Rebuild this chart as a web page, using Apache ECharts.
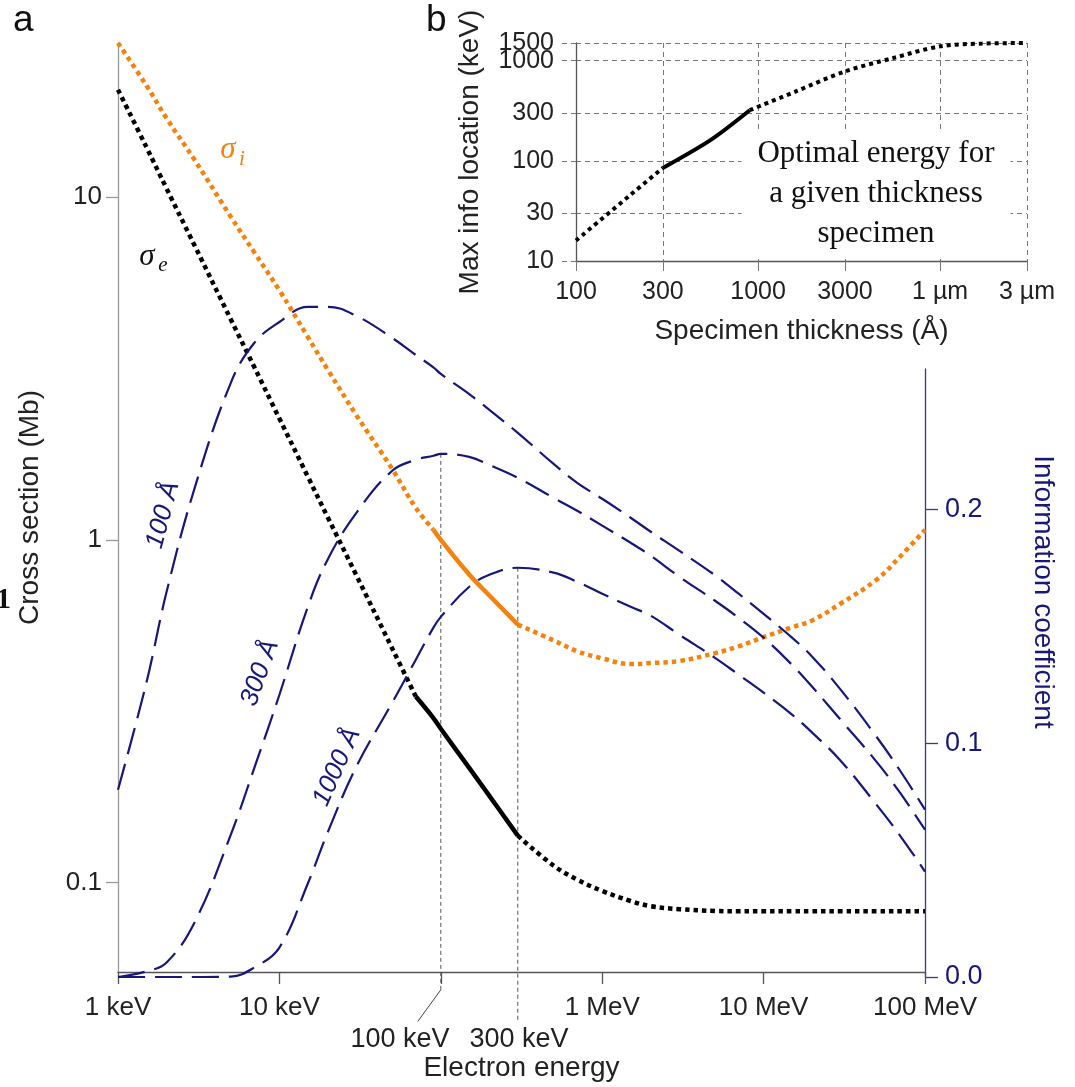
<!DOCTYPE html>
<html>
<head>
<meta charset="utf-8">
<script src="https://cdn.jsdelivr.net/npm/echarts@6/dist/echarts.min.js"></script>
<style>
  html, body { margin: 0; padding: 0; background: #fff; }
  #chart { width: 1075px; height: 1087px; }
</style>
</head>
<body>
<div id="chart"></div>
<script>
// ---- panel a : electron energy in keV ----
const energyKeV = [1, 1.5, 2, 3, 5, 7, 10, 15, 20, 30, 50, 70, 90, 100, 150, 200, 300, 500, 700,
  1000, 1500, 2000, 3000, 5000, 7000, 10000, 15000, 20000, 30000, 50000, 70000, 100000];

// cross sections (Mb)
const sigmaInelastic = [28.2, 21.2, 17.0, 12.8, 8.77, 6.90, 5.35, 3.91, 3.13, 2.31, 1.61, 1.24, 1.07, 1.00,
  0.792, 0.688, 0.566, 0.509, 0.473, 0.451, 0.434, 0.437, 0.443, 0.467, 0.489, 0.520, 0.556, 0.582,
  0.652, 0.765, 0.893, 1.07];
const sigmaElastic = [20.6, 14.0, 10.6, 7.19, 4.40, 3.19, 2.26, 1.53, 1.16, 0.788, 0.482, 0.349, 0.302, 0.281,
  0.216, 0.179, 0.137, 0.112, 0.102, 0.0945, 0.0883, 0.0853, 0.0836, 0.0826, 0.0824, 0.0824, 0.0824,
  0.0824, 0.0824, 0.0824, 0.0824, 0.0824];

// information coefficient for three specimen thicknesses
const info100A = [0.0801, 0.1259, 0.1647, 0.2096, 0.2541, 0.2712, 0.2801, 0.2866, 0.2866, 0.2827, 0.2733,
  0.2660, 0.2607, 0.2579, 0.2493, 0.2425, 0.2327, 0.2194, 0.2113, 0.2045, 0.1964, 0.1904, 0.1823,
  0.1718, 0.1639, 0.1553, 0.1451, 0.1370, 0.1229, 0.1028, 0.0883, 0.0716];
const info300A = [0.0, 0.0024, 0.0062, 0.0237, 0.0609, 0.0895, 0.1207, 0.1583, 0.1788, 0.1985, 0.2165,
  0.2212, 0.2229, 0.2237, 0.2224, 0.2190, 0.2135, 0.2049, 0.1994, 0.1930, 0.1857, 0.1801, 0.1712,
  0.1609, 0.1536, 0.1451, 0.1335, 0.1241, 0.1100, 0.0921, 0.0788, 0.0630];
const info1000A = [0, 0, 0, 0, 0.0002, 0.0041, 0.0126, 0.0400, 0.0622, 0.0900, 0.1173, 0.1357, 0.1494,
  0.1540, 0.1669, 0.1720, 0.1750, 0.1729, 0.1690, 0.1639, 0.1583, 0.1545, 0.1464, 0.1365, 0.1293,
  0.1216, 0.1122, 0.1045, 0.0925, 0.0737, 0.0605, 0.0451];

// solid (practical) range of the cross-section curves, keV
const solidInelastic = [90, 300];
const solidElastic = [70, 300];

// guide lines at 100 keV and 300 keV (peak of 300 A and 1000 A curves)
const guideEnergy = [100, 300];
const guideTop = [0.2237, 0.1750];
const guideBottom = [-0.0055, -0.019];
const leaderEnd = [72, -0.019];

const energyTicks = [1, 10, 100, 1000, 10000, 100000];
const energyLabels = ['1 keV', '10 keV', '', '1 MeV', '10 MeV', '100 MeV'];
const sigmaTicks = [0.1, 1, 10];
const infoTicks = [0, 0.1, 0.2];

// ---- panel b : optimal energy vs thickness ----
const thicknessA = [100, 200, 300, 550, 900, 1600, 3000, 5500, 10000, 17000, 30000];
const optimalKeV = [16, 46, 85, 162, 320, 490, 780, 1060, 1390, 1480, 1500];
const solidThickness = [300, 900];
const thickTicks = [100, 300, 1000, 3000, 10000, 30000];
const thickLabels = ['100', '300', '1000', '3000', '1 µm', '3 µm'];
const keVTicks = [10, 30, 100, 300, 1000, 1500];
const keVTopTick = [1500];

const navy = '#17177a';
const orange = '#f5820d';
const font = "'Liberation Sans', Arial, sans-serif";

const pairs = (xs, ys) => xs.map((x, i) => [x, ys[i]]);
const part = (xs, ys, lo, hi) => pairs(xs, ys).filter(p => p[0] >= lo && p[0] <= hi);
const tickText = (ticks, labels) => v => {
  const i = ticks.findIndex(t => Math.abs(Math.log10(t) - Math.log10(v)) < 1e-6);
  return i < 0 ? '' : labels[i];
};

const dotted = (color) => ({ color: color, width: 4.5, type: [4.5, 4], cap: 'butt' });
const solid = (color) => ({ color: color, width: 4.5 });

function crossSeries(name, vals, range, color) {
  const base = { type: 'line', xAxisIndex: 0, yAxisIndex: 0, symbol: 'none', smooth: 0.4, silent: true, clip: false, z: 3 };
  return [
    Object.assign({}, base, { name: name + ' low', data: part(energyKeV, vals, 0, range[0]), lineStyle: dotted(color) }),
    Object.assign({}, base, { name: name, data: part(energyKeV, vals, range[0], range[1]), lineStyle: solid(color) }),
    Object.assign({}, base, { name: name + ' high', data: part(energyKeV, vals, range[1], 1e9), lineStyle: dotted(color) })
  ];
}

function infoSeries(name, vals) {
  return {
    name: name, type: 'line', xAxisIndex: 1, yAxisIndex: 1, symbol: 'none', smooth: 0.4,
    silent: true, clip: false, z: 4,
    lineStyle: { color: navy, width: 2.2, type: [27, 10] },
    data: pairs(energyKeV, vals)
  };
}

const guideSeries = guideEnergy.map((e, i) => ({
  type: 'line', xAxisIndex: 1, yAxisIndex: 1, symbol: 'none', silent: true, clip: false, z: 1,
  lineStyle: { color: '#555', width: 1, type: [4, 3] },
  data: [[e, guideTop[i]], [e, guideBottom[i]]]
}));
guideSeries.push({
  type: 'line', xAxisIndex: 1, yAxisIndex: 1, symbol: 'none', silent: true, clip: false, z: 1,
  lineStyle: { color: '#444', width: 1 },
  data: [[guideEnergy[0], guideBottom[0]], leaderEnd]
});

const insetBase = { type: 'line', xAxisIndex: 2, yAxisIndex: 2, symbol: 'none', smooth: 0.3, silent: true, clip: false, z: 3 };
const insetSeries = [
  Object.assign({}, insetBase, { data: part(thicknessA, optimalKeV, 0, solidThickness[0]), lineStyle: { color: '#000', width: 4, type: [4, 4] } }),
  Object.assign({}, insetBase, { data: part(thicknessA, optimalKeV, solidThickness[0], solidThickness[1]), lineStyle: { color: '#000', width: 4 } }),
  Object.assign({}, insetBase, { data: part(thicknessA, optimalKeV, solidThickness[1], 1e9), lineStyle: { color: '#000', width: 4, type: [4, 4] } })
];

const chart = echarts.init(document.getElementById('chart'));

const option = {
  animation: false,
  backgroundColor: '#fff',
  textStyle: { fontFamily: font },
  grid: [
    { left: 118, right: 150, top: 43, bottom: 110 },
    { left: 118, right: 150, top: 369, bottom: 110 },
    { left: 576, right: 48, top: 43, bottom: 826 }
  ],
  xAxis: [
    {
      type: 'log', gridIndex: 0, min: 1, max: 100000, logBase: 10,
      name: 'Electron energy', nameLocation: 'middle', nameGap: 82,
      nameTextStyle: { fontSize: 28, color: '#222', fontFamily: font },
      axisLine: { lineStyle: { color: '#555', width: 1.3 } },
      axisTick: { length: 12, lineStyle: { color: '#555', width: 1.3 } },
      axisLabel: { fontSize: 26, color: '#222', margin: 23, formatter: tickText(energyTicks, energyLabels) },
      splitLine: { show: false }, minorTick: { show: false }
    },
    { type: 'log', gridIndex: 1, min: 1, max: 100000, show: false },
    {
      type: 'log', gridIndex: 2, min: 100, max: 30000,
      name: 'Specimen thickness (Å)', nameLocation: 'middle', nameGap: 56,
      nameTextStyle: { fontSize: 28, color: '#222', fontFamily: font },
      axisLine: { lineStyle: { color: '#555', width: 1.3 } },
      axisTick: { customValues: thickTicks, length: 10, lineStyle: { color: '#777', width: 1 } },
      axisLabel: { customValues: thickTicks, fontSize: 25, color: '#222', margin: 19, showMinLabel: true, showMaxLabel: true,
        formatter: tickText(thickTicks, thickLabels) },
      splitLine: { show: true, lineStyle: { color: '#777', width: 1, type: [5, 4] } }
    }
  ],
  yAxis: [
    {
      type: 'log', gridIndex: 0, min: 0.0548, max: 28.2,
      name: 'Cross section (Mb)', nameLocation: 'middle', nameGap: 74,
      nameTextStyle: { fontSize: 28, color: '#222', fontFamily: font },
      axisLine: { show: true, lineStyle: { color: '#999', width: 1.3 } },
      axisTick: { show: true, customValues: sigmaTicks, length: 12, lineStyle: { color: '#999', width: 1.3 } },
      axisLabel: { customValues: sigmaTicks, fontSize: 26, color: '#222', margin: 16, formatter: v => String(+(+v).toPrecision(3)) },
      splitLine: { show: false }
    },
    {
      type: 'value', gridIndex: 1, position: 'right', min: 0, max: 0.26,
      name: 'Information coefficient', nameLocation: 'middle', nameGap: 104, nameRotate: -90,
      nameTextStyle: { fontSize: 28, color: navy, fontFamily: font, padding: [0, 162, 0, 0] },
      axisLine: { show: true, lineStyle: { color: '#3a3a8c', width: 1.3 } },
      axisTick: { show: true, customValues: infoTicks, length: 13, lineStyle: { color: '#3a3a8c', width: 1.3 } },
      axisLabel: { customValues: infoTicks, fontSize: 27, color: navy, margin: 20, formatter: v => (+v).toFixed(1) },
      splitLine: { show: false }
    },
    {
      type: 'log', gridIndex: 2, position: 'left', min: 10, max: 1500,
      name: 'Max info location (keV)', nameLocation: 'middle', nameGap: 92,
      nameTextStyle: { fontSize: 28, color: '#222', fontFamily: font },
      axisLine: { show: true, lineStyle: { color: '#555', width: 1.3 } },
      axisTick: { show: true, customValues: keVTicks, length: 14, lineStyle: { color: '#777', width: 1, type: [5, 4] } },
      axisLabel: { customValues: keVTicks.filter(v => keVTopTick.indexOf(v) < 0), fontSize: 25, color: '#222', margin: 22,
        formatter: v => String(Math.round(v)) },
      splitLine: { show: true, lineStyle: { color: '#777', width: 1, type: [5, 4] } }
    },
    {
      // second label row for the top value, so it is not dropped as an overlap
      type: 'log', gridIndex: 2, position: 'left', min: 10, max: 1500,
      axisLine: { show: false }, axisTick: { show: false }, splitLine: { show: false },
      axisLabel: { customValues: keVTopTick, fontSize: 25, color: '#222', margin: 22, showMaxLabel: true,
        formatter: v => String(Math.round(v)) }
    }
  ],
  graphic: [
    { type: 'text', x: 13, y: 2, style: { text: 'a', font: '37px ' + font, fill: '#111' } },
    { type: 'text', x: 426, y: 2, style: { text: 'b', font: '37px ' + font, fill: '#111' } },
    { type: 'text', x: -4, y: 600, style: { text: '1', font: 'bold 30px "Liberation Serif"', fill: '#111', verticalAlign: 'middle' } },
    { type: 'text', x: 228, y: 150, style: { text: 'σ', font: 'italic 31px "Liberation Serif"', fill: orange, align: 'center', verticalAlign: 'middle' } },
    { type: 'text', x: 242, y: 159, style: { text: 'i', font: 'italic 21px "Liberation Serif"', fill: orange, align: 'center', verticalAlign: 'middle' } },
    { type: 'text', x: 147, y: 257, style: { text: 'σ', font: 'italic 31px "Liberation Serif"', fill: '#111', align: 'center', verticalAlign: 'middle' } },
    { type: 'text', x: 163, y: 265, style: { text: 'e', font: 'italic 21px "Liberation Serif"', fill: '#111', align: 'center', verticalAlign: 'middle' } },
    { type: 'text', x: 163, y: 515, rotation: 75 * Math.PI / 180, style: { text: '100 Å', font: 'italic 26px ' + font, fill: navy, align: 'center', verticalAlign: 'middle' } },
    { type: 'text', x: 260, y: 673, rotation: 70 * Math.PI / 180, style: { text: '300 Å', font: 'italic 26px ' + font, fill: navy, align: 'center', verticalAlign: 'middle' } },
    { type: 'text', x: 337, y: 767, rotation: 66 * Math.PI / 180, style: { text: '1000 Å', font: 'italic 26px ' + font, fill: navy, align: 'center', verticalAlign: 'middle' } },
    { type: 'text', x: 400, y: 1040, style: { text: '100 keV', font: '27px ' + font, fill: '#222', align: 'center', verticalAlign: 'middle' } },
    { type: 'text', x: 519, y: 1040, style: { text: '300 keV', font: '27px ' + font, fill: '#222', align: 'center', verticalAlign: 'middle' } },
    { type: 'text', x: 876, y: 194, z: 50, style: {
        text: 'Optimal energy for\na given thickness\nspecimen', font: '31px "Liberation Serif"', fill: '#111',
        align: 'center', verticalAlign: 'middle', lineHeight: 40, backgroundColor: '#fff', padding: [5, 16, 5, 16] } }
  ],
  series: [].concat(
    guideSeries,
    crossSeries('sigma_i', sigmaInelastic, solidInelastic, orange),
    crossSeries('sigma_e', sigmaElastic, solidElastic, '#000'),
    [infoSeries('100 Å', info100A), infoSeries('300 Å', info300A), infoSeries('1000 Å', info1000A)],
    insetSeries
  )
};

chart.setOption(option);
</script>
</body>
</html>
